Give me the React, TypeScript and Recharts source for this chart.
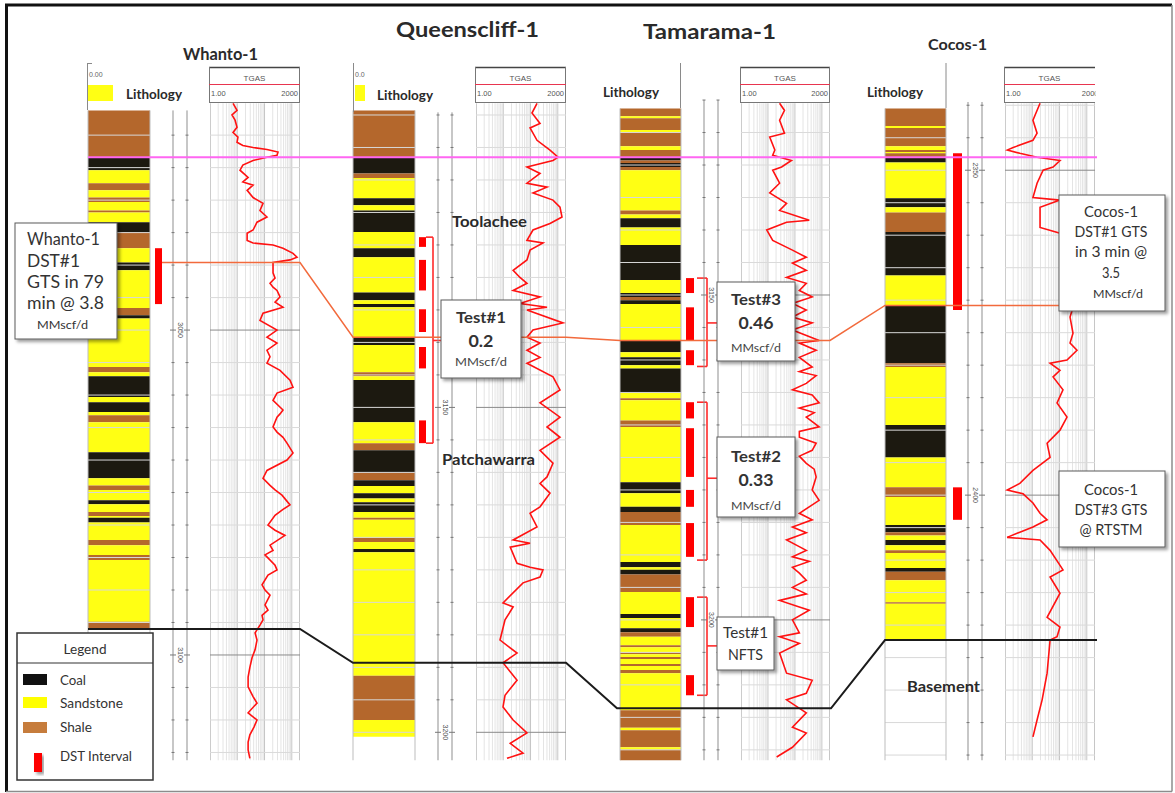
import React from 'react';
import { ComposedChart, XAxis, YAxis, Line, ReferenceArea, ReferenceLine } from 'recharts';

type Interval = [number, number, string];
type Pt = [number, number];

// ---------------- DATA (depths in m below the datum horizon) ----------------
const wellNames = ['Whanto-1', 'Queenscliff-1', 'Tamarama-1', 'Cocos-1'];
// measured depth (m) of the flattening datum horizon in each well
const datumDepths = [3023.4, 3111.5, 3128.8, 2348.0];

// lithology intervals [top, base, code]  C = coal, S = sandstone, H = shale
const whantoLith: Interval[] = [
  [-7.2, 0, 'H'], [0, 2.0, 'C'], [2.0, 4.0, 'S'], [4.0, 5.1, 'H'], [5.1, 6.2, 'S'], [6.2, 6.9, 'H'],
  [6.9, 8.2, 'S'], [8.2, 8.5, 'H'], [8.5, 10.0, 'S'], [10.0, 11.5, 'C'], [11.5, 14.0, 'H'], [14.0, 16.2, 'S'],
  [16.2, 17.4, 'C'], [17.4, 23.2, 'S'], [23.2, 24.3, 'H'], [24.3, 24.8, 'C'], [24.8, 32.3, 'S'], [32.3, 33.1, 'H'],
  [33.1, 33.7, 'S'], [33.7, 36.9, 'C'], [36.9, 37.7, 'S'], [37.7, 39.2, 'C'], [39.2, 39.7, 'S'], [39.7, 40.8, 'H'],
  [40.8, 45.4, 'S'], [45.4, 49.4, 'C'], [49.4, 50.5, 'S'], [50.5, 51.2, 'H'], [51.2, 52.8, 'S'], [52.8, 53.4, 'C'],
  [53.4, 54.6, 'S'], [54.6, 55.2, 'H'], [55.2, 55.5, 'S'], [55.5, 56.2, 'C'], [56.2, 58.9, 'S'], [58.9, 59.7, 'H'],
  [59.7, 61.2, 'S'], [61.2, 62.0, 'H'], [62.0, 71.5, 'S'], [71.5, 72.5, 'H'],
];
const queenscliffLith: Interval[] = [
  [-7.2, 0, 'H'], [0, 2.5, 'C'], [2.5, 3.2, 'H'], [3.2, 6.3, 'S'], [6.3, 7.4, 'C'], [7.4, 8.2, 'S'],
  [8.2, 11.5, 'C'], [11.5, 14.0, 'S'], [14.0, 15.4, 'C'], [15.4, 20.8, 'S'], [20.8, 22.0, 'C'], [22.0, 22.6, 'S'],
  [22.6, 23.1, 'C'], [23.1, 27.7, 'S'], [27.7, 28.9, 'C'], [28.9, 33.1, 'S'], [33.1, 33.7, 'H'], [33.7, 34.3, 'S'],
  [34.3, 40.8, 'C'], [40.8, 44.0, 'S'], [44.0, 45.1, 'H'], [45.1, 48.5, 'C'], [48.5, 49.7, 'H'], [49.7, 50.6, 'C'],
  [50.6, 51.7, 'S'], [51.7, 52.5, 'C'], [52.5, 53.1, 'S'], [53.1, 54.6, 'C'], [54.6, 55.5, 'S'], [55.5, 55.8, 'H'],
  [55.8, 58.6, 'S'], [58.6, 59.2, 'H'], [59.2, 60.3, 'S'], [60.3, 60.8, 'C'], [60.8, 79.8, 'S'], [79.8, 86.6, 'H'],
  [86.6, 89.2, 'S'],
];
const tamaramaLith: Interval[] = [
  [-7.5, -6.3, 'H'], [-6.3, -6.0, 'S'], [-6.0, -4.2, 'H'], [-4.2, -3.9, 'S'], [-3.9, -1.7, 'H'], [-1.7, -1.1, 'S'],
  [-1.1, 0, 'H'], [0, 0.5, 'C'], [0.5, 0.9, 'H'], [0.9, 1.5, 'C'], [1.5, 2.0, 'H'], [2.0, 8.2, 'S'],
  [8.2, 8.8, 'H'], [8.8, 9.4, 'S'], [9.4, 10.8, 'C'], [10.8, 13.5, 'S'], [13.5, 18.9, 'C'], [18.9, 20.9, 'S'],
  [20.9, 21.5, 'C'], [21.5, 22.0, 'H'], [22.0, 22.6, 'C'], [22.6, 28.2, 'S'], [28.2, 30.0, 'C'], [30.0, 30.8, 'S'],
  [30.8, 32.0, 'C'], [32.0, 32.5, 'S'], [32.5, 36.3, 'C'], [36.3, 37.1, 'S'], [37.1, 37.4, 'H'], [37.4, 40.5, 'S'],
  [40.5, 41.5, 'H'], [41.5, 50.0, 'S'], [50.0, 51.7, 'C'], [51.7, 53.8, 'S'], [53.8, 54.6, 'C'], [54.6, 56.6, 'H'],
  [56.6, 62.3, 'S'], [62.3, 63.1, 'C'], [63.1, 63.5, 'S'], [63.5, 64.2, 'C'], [64.2, 66.9, 'H'], [66.9, 70.3, 'S'],
  [70.3, 70.9, 'C'], [70.9, 72.5, 'S'], [72.5, 73.1, 'C'], [73.1, 73.8, 'H'], [73.8, 75.1, 'S'], [75.1, 75.4, 'H'],
  [75.4, 76.2, 'S'], [76.2, 76.5, 'H'], [76.5, 76.9, 'S'], [76.9, 77.2, 'H'], [77.2, 78.0, 'S'], [78.0, 78.3, 'H'],
  [78.3, 78.9, 'S'], [78.9, 79.4, 'H'], [79.4, 85.1, 'S'], [85.1, 87.8, 'H'], [87.8, 88.2, 'S'], [88.2, 90.8, 'H'],
  [90.8, 91.2, 'S'], [91.2, 92.8, 'H'],
];
const cocosLith: Interval[] = [
  [-7.5, -4.8, 'H'], [-4.8, -4.5, 'S'], [-4.5, -1.7, 'H'], [-1.7, -1.1, 'S'], [-1.1, -0.8, 'H'], [-0.8, -0.6, 'S'],
  [-0.6, 0, 'H'], [0, 0.8, 'C'], [0.8, 6.3, 'S'], [6.3, 7.7, 'C'], [7.7, 8.5, 'S'], [8.5, 11.5, 'H'],
  [11.5, 18.2, 'C'], [18.2, 22.8, 'S'], [22.8, 31.7, 'C'], [31.7, 32.3, 'H'], [32.3, 41.2, 'S'], [41.2, 46.2, 'C'],
  [46.2, 50.8, 'S'], [50.8, 52.3, 'H'], [52.3, 56.6, 'S'], [56.6, 57.7, 'C'], [57.7, 58.2, 'H'], [58.2, 58.9, 'S'],
  [58.9, 59.7, 'C'], [59.7, 60.5, 'S'], [60.5, 60.9, 'H'], [60.9, 63.2, 'S'], [63.2, 63.8, 'C'], [63.8, 65.1, 'H'],
  [65.1, 68.5, 'S'], [68.5, 68.7, 'H'], [68.7, 74.3, 'S'],
];

// total gas logs [m below datum, TGAS units]
const whantoGas: Pt[] = [
  [-8.3, 7.0], [-7.2, 9.8], [-6.5, 6.4], [-5.7, 8.3], [-4.6, 9.8], [-3.8, 7.0], [-3.1, 10.6], [-2.3, 9.8],
  [-1.8, 16], [-1.5, 38], [-1.2, 123], [-0.8, 312], [-0.3, 287], [0, 123], [0.5, 38], [1.2, 16], [2.0, 12.6],
  [3.1, 25], [3.8, 16], [4.3, 38], [5.1, 23], [6.2, 38], [7.1, 88], [8.2, 68], [9.2, 123], [10.0, 53],
  [11.2, 38], [11.7, 23], [12.8, 23], [13.2, 38], [13.5, 205], [14.0, 476], [14.8, 1108], [15.4, 1553],
  [15.8, 860], [16.2, 205], [17.8, 205], [18.6, 243], [19.4, 159], [20.0, 205], [20.5, 287], [21.5, 370],
  [22.3, 243], [23.1, 476], [24.0, 88], [25.1, 68], [26.6, 287], [27.7, 123], [28.6, 287], [29.7, 123],
  [30.7, 159], [31.7, 123], [32.8, 370], [34.3, 860], [35.4, 1108], [36.3, 287], [37.4, 205], [38.9, 476],
  [39.5, 370], [40.0, 287], [41.5, 205], [42.3, 287], [43.1, 476], [44.0, 667], [45.5, 1108], [46.6, 667],
  [48.2, 123], [49.4, 88], [50.5, 159], [51.2, 243], [52.0, 437], [53.5, 860], [54.2, 476], [55.1, 243],
  [56.6, 134], [57.4, 243], [58.2, 563], [59.7, 159], [60.5, 205], [61.2, 104], [62.8, 243], [63.5, 287],
  [64.3, 134], [65.8, 81], [66.6, 104], [67.4, 159], [68.9, 104], [69.7, 134], [70.5, 81], [71.2, 88],
  [72.0, 68], [73.2, 45], [74.3, 53], [75.8, 45], [77.0, 35], [78.5, 29], [80.0, 25], [81.5, 25], [83.0, 38],
  [84.0, 53], [85.5, 25], [86.6, 53], [87.7, 41], [88.9, 29], [90.0, 25], [91.2, 25], [92.5, 29],
];
const queenscliffGas: Pt[] = [
  [-8.3, 173], [-6.8, 113], [-5.2, 223], [-4.5, 96], [-2.6, 173], [-1.1, 518], [0, 1018], [0.5, 667],
  [1.5, 74], [2.5, 223], [4.0, 74], [4.6, 402], [5.5, 123], [6.6, 667], [7.7, 1205], [9.2, 1427], [10.2, 518],
  [11.2, 123], [12.8, 74], [13.2, 287], [14.3, 96], [15.8, 74], [17.4, 23], [18.5, 41], [19.4, 74], [20.5, 23],
  [21.5, 223], [22.5, 41], [23.1, 402], [23.5, 74], [25.5, 1553], [26.6, 123], [27.7, 74], [28.6, 223],
  [29.7, 74], [30.8, 223], [31.7, 74], [33.8, 667], [35.8, 1205], [37.8, 223], [40.0, 1205], [41.5, 402],
  [43.1, 1205], [45.1, 223], [47.1, 667], [49.2, 402], [50.2, 223], [51.7, 518], [53.8, 223], [54.8, 96],
  [56.9, 173], [58.9, 23], [59.4, 96], [60.0, 18], [62.5, 32], [63.1, 96], [63.5, 287], [64.6, 223],
  [65.5, 53], [68.6, 9.8], [69.2, 23], [71.2, 11.6], [74.3, 7.6], [76.3, 32], [77.8, 9.8], [80.5, 32],
  [82.8, 11.6], [84.6, 9.8], [86.6, 23], [88.6, 74], [90.2, 18], [91.7, 53], [92.5, 13.7],
];
const tamaramaGas: Pt[] = [
  [-8.3, 27], [-7.2, 41], [-5.7, 27], [-3.7, 41], [-3.1, 11.6], [-1.1, 18], [-0.3, 15], [0.5, 74], [1.5, 32],
  [2.0, 15], [4.0, 27], [5.5, 11.6], [7.1, 49], [8.2, 27], [9.7, 340], [10.0, 49], [11.2, 9], [12.8, 15],
  [14.3, 81], [15.4, 264], [16.3, 81], [17.4, 264], [18.5, 49], [19.4, 264], [20.5, 146], [21.5, 437],
  [22.5, 81], [23.5, 264], [24.6, 81], [25.5, 437], [26.6, 81], [28.2, 790], [28.6, 146], [29.7, 613],
  [30.8, 146], [32.3, 437], [33.0, 146], [33.6, 613], [34.8, 264], [35.8, 81], [36.6, 437], [37.8, 790],
  [38.6, 146], [39.3, 518], [40.0, 264], [41.5, 790], [42.2, 146], [43.1, 146], [44.0, 613], [45.1, 437],
  [46.0, 146], [47.1, 264], [48.0, 518], [49.2, 613], [51.2, 437], [52.8, 790], [54.8, 146], [55.8, 437],
  [56.9, 81], [57.8, 264], [58.9, 49], [60.5, 264], [61.5, 81], [62.2, 340], [63.1, 81], [64.0, 146],
  [65.1, 264], [66.2, 81], [67.2, 264], [68.2, 27], [69.2, 146], [69.7, 340], [71.2, 81], [73.2, 146],
  [73.8, 27], [74.8, 146], [76.3, 27], [79.4, 49], [80.5, 437], [82.5, 264], [83.5, 49], [85.5, 264],
  [87.7, 81], [88.6, 264], [90.8, 81], [92.3, 21],
];
const cocosGas: Pt[] = [
  [-8.3, 19.3], [-5.7, 10.6], [-3.7, 15], [-2.6, 10.6], [-1.5, 2.0], [-1.1, 1.2], [-0.6, 3.5], [0, 15],
  [0.5, 104], [1.5, 58], [2.0, 25], [4.0, 15], [6.2, 10.6], [6.6, 104], [7.7, 19.3], [10.8, 19.3], [11.7, 104],
  [14.3, 312], [16.9, 437], [19.4, 312], [23.1, 312], [24.6, 243], [27.1, 312], [28.6, 243], [29.7, 437],
  [31.2, 188], [31.7, 45], [32.8, 104], [33.8, 58], [35.8, 134], [37.8, 81], [40.0, 188], [42.0, 104],
  [44.0, 35], [46.2, 45], [48.2, 10.6], [50.2, 3.5], [51.2, 1.2], [51.8, 4.6], [53.2, 10.6], [54.8, 19.3],
  [55.8, 35], [56.9, 10.6], [57.7, 3.5], [58.5, 1.2], [58.9, 19.3], [60.5, 45], [63.5, 134], [64.6, 45],
  [67.1, 104], [70.8, 35], [72.3, 104], [73.8, 81], [74.3, 45], [79.4, 35], [83.5, 23], [86.6, 15], [89.2, 10.6],
];

// DST intervals [top, base]
const whantoDst: Pt[] = [[14.0, 22.6]];
const queenscliffDst: Pt[] = [[12.3, 13.8], [15.8, 20.5], [23.4, 26.9], [29.2, 32.5], [40.5, 44.0]];
const tamaramaDst: Pt[] = [
  [18.6, 20.9], [23.1, 28.2], [29.7, 32.0], [37.7, 40.2], [41.7, 49.2], [51.2, 53.8], [56.3, 61.5],
  [67.7, 72.3], [79.7, 82.8],
];
const cocosDst: Pt[] = [[-0.6, 23.5], [50.8, 55.8]];

// grouped tests [top, base, annotation depth]
const queenscliffTests: [number, number, number][] = [[12.3, 44.0, 28.2]];
const tamaramaTests: [number, number, number][] = [[18.6, 32.2, 25.5], [37.7, 62.0, 49.4], [67.7, 82.8, 75.2]];

// correlation horizon picks per well (m below datum)
const datumPicks = [0, 0, 0, 0];
const gasZonePicks = [16.2, 27.7, 28.2, 22.8];
const basementPicks = [72.6, 77.8, 84.8, 74.3];

const WELLS = [
  { lith: whantoLith, gas: whantoGas, dst: whantoDst, tests: [] as [number, number, number][] },
  { lith: queenscliffLith, gas: queenscliffGas, dst: queenscliffDst, tests: queenscliffTests },
  { lith: tamaramaLith, gas: tamaramaGas, dst: tamaramaDst, tests: tamaramaTests },
  { lith: cocosLith, gas: cocosGas, dst: cocosDst, tests: [] as [number, number, number][] },
];

// ---------------- LAYOUT ----------------
const W = 1175;
const H = 793;
const PLOT_TOP = 63;
const PLOT_BOTTOM = 23;
const DEPTH_DOMAIN: [number, number] = [-14.5, 94.3];
const TRACK_TOP = -8.3;
const TRACK_BASE = 92.8;

const LAYOUT = [
  { lithL: 88, lithR: 150, dstL: 155, dstR: 162, depthA: 173, depthB: 187, depthTop: -7.2, gasL: 210, gasR: 300, brL: 0, brX: 0, brTick: 0 },
  { lithL: 353, lithR: 415, dstL: 419, dstR: 426, depthA: 438, depthB: 452, depthTop: -6.9, gasL: 476, gasR: 566, brL: 426, brX: 433, brTick: 441 },
  { lithL: 620, lithR: 681, dstL: 686, dstR: 694, depthA: 704, depthB: 718, depthTop: -8.8, gasL: 741, gasR: 830, brL: 697, brX: 707, brTick: 717 },
  { lithL: 885, lithR: 946, dstL: 953, dstR: 962, depthA: 968, depthB: 982, depthTop: -8.5, gasL: 1005, gasR: 1095, brL: 0, brX: 0, brTick: 0 },
];

const PINK_SPANS: Pt[] = [[88, 300], [353, 566], [620, 830], [885, 1097]];
const ORANGE_SPANS: Pt[] = [[162, 300], [353, 566], [620, 830], [885, 1059]];
const BASE_SPANS: Pt[] = [[88, 300], [353, 566], [617, 831], [885, 1097]];

const LITH_FILL: Record<string, string> = { C: '#1c1910', S: '#ffff14', H: '#b4672c' };
const FONT = 'Lato, "Open Sans", "Noto Sans", sans-serif';
const SMALL_FONT = '"Liberation Sans", Arial, sans-serif';

const LOG_GRID: number[] = [];
[1, 10, 100, 1000].forEach((dec) => {
  for (let k = 1; k <= 9; k++) {
    const v = k * dec;
    if (v <= 2000) LOG_GRID.push(v);
  }
});

function fiveMetreLines(datum: number, top: number, base: number): number[] {
  const out: number[] = [];
  for (let z = Math.ceil((datum + top) / 5) * 5; z <= datum + base; z += 5) out.push(z);
  return out;
}

const DepthLabel = (props: any) => {
  const vb = props.viewBox || { x: 0, y: 0, width: 0, height: 0 };
  const cx = vb.x + (vb.width || 0) / 2;
  const cy = vb.y + (vb.height || 0) / 2;
  return (
    <text
      transform={`translate(${cx},${cy}) rotate(90)`}
      textAnchor="middle"
      dominantBaseline="central"
      fontSize={7}
      fill="#555"
      fontFamily={SMALL_FONT}
    >
      {props.depthText}
    </text>
  );
};

// ---------------- GAS TRACK ----------------
function GasTrack({ i }: { i: number }) {
  const L = LAYOUT[i];
  const D = datumDepths[i];
  const w = L.gasR - L.gasL;
  const data = WELLS[i].gas.map(([d, g]) => ({ d, g }));
  const hLines = fiveMetreLines(D, TRACK_TOP, TRACK_BASE);
  return (
    <div style={{ position: 'absolute', left: L.gasL, top: 0 }}>
      <ComposedChart width={w} height={H} margin={{ top: PLOT_TOP, bottom: PLOT_BOTTOM, left: 0, right: 0 }}>
        <XAxis type="number" dataKey="g" scale="log" domain={[1, 2000]} hide allowDataOverflow />
        <YAxis type="number" domain={DEPTH_DOMAIN} reversed hide allowDataOverflow />
        {LOG_GRID.map((v) => {
          const dec = [1, 10, 100, 1000].includes(v);
          return (
            <ReferenceLine
              key={'v' + v}
              segment={[{ x: v, y: TRACK_TOP }, { x: v, y: TRACK_BASE }]}
              stroke={v === 1 ? '#9a9a9a' : dec ? '#c6c6c6' : '#e4e4e4'}
              strokeWidth={1}
              ifOverflow="visible"
            />
          );
        })}
        <ReferenceLine
          segment={[{ x: 2000, y: TRACK_TOP }, { x: 2000, y: TRACK_BASE }]}
          stroke="#9a9a9a"
          ifOverflow="visible"
        />
        {hLines.map((z) => (
          <ReferenceLine
            key={'h' + z}
            y={z - D}
            stroke={z % 50 === 0 ? '#8a8a8a' : '#dadada'}
            strokeWidth={1}
            ifOverflow="visible"
          />
        ))}
        <Line
          data={data}
          dataKey="d"
          type="linear"
          stroke="#ff1212"
          strokeWidth={1.6}
          dot={false}
          activeDot={false}
          isAnimationActive={false}
        />
      </ComposedChart>
    </div>
  );
}

// ---------------- COLUMNS (lithology, DST, depth tracks) ----------------
function ColumnChart() {
  const els: React.ReactNode[] = [];
  WELLS.forEach((wl, i) => {
    const L = LAYOUT[i];
    const D = datumDepths[i];
    const colTop = wl.lith[0][0];
    // background grid of the lithology track
    fiveMetreLines(D, colTop, TRACK_BASE).forEach((z) => {
      els.push(
        <ReferenceLine key={`cg${i}-${z}`} segment={[{ x: L.lithL, y: z - D }, { x: L.lithR, y: z - D }]} stroke="#d8d8d8" ifOverflow="visible" />
      );
    });
    els.push(
      <ReferenceLine key={`ce${i}a`} segment={[{ x: L.lithL, y: colTop }, { x: L.lithL, y: TRACK_BASE }]} stroke="#bdbdbd" ifOverflow="visible" />,
      <ReferenceLine key={`ce${i}b`} segment={[{ x: L.lithR, y: colTop }, { x: L.lithR, y: TRACK_BASE }]} stroke="#bdbdbd" ifOverflow="visible" />
    );
    // lithology bands
    wl.lith.forEach(([t, b, c], k) => {
      els.push(
        <ReferenceArea
          key={`l${i}-${k}`}
          x1={L.lithL}
          x2={L.lithR}
          y1={t}
          y2={b}
          fill={LITH_FILL[c]}
          fillOpacity={1}
          stroke="none"
          ifOverflow="visible"
        />
      );
    });
    // DST bars
    wl.dst.forEach(([t, b], k) => {
      els.push(
        <ReferenceArea key={`d${i}-${k}`} x1={L.dstL} x2={L.dstR} y1={t} y2={b} fill="#ff0000" fillOpacity={1} stroke="none" ifOverflow="visible" />
      );
    });
    // test brackets
    wl.tests.forEach(([t, b, m], k) => {
      const st = { stroke: '#ff2a2a', strokeWidth: 1.6, ifOverflow: 'visible' as const };
      els.push(
        <ReferenceLine key={`bt${i}-${k}`} segment={[{ x: L.brL, y: t }, { x: L.brX, y: t }]} {...st} />,
        <ReferenceLine key={`bb${i}-${k}`} segment={[{ x: L.brL, y: b }, { x: L.brX, y: b }]} {...st} />,
        <ReferenceLine key={`bv${i}-${k}`} segment={[{ x: L.brX, y: t }, { x: L.brX, y: b }]} {...st} />,
        <ReferenceLine key={`bm${i}-${k}`} segment={[{ x: L.brX, y: m }, { x: L.brTick, y: m }]} {...st} />
      );
    });
    // depth track
    els.push(
      <ReferenceLine key={`da${i}`} segment={[{ x: L.depthA, y: L.depthTop }, { x: L.depthA, y: TRACK_BASE }]} stroke="#8f8f8f" ifOverflow="visible" />,
      <ReferenceLine key={`db${i}`} segment={[{ x: L.depthB, y: L.depthTop }, { x: L.depthB, y: TRACK_BASE }]} stroke="#8f8f8f" ifOverflow="visible" />
    );
    fiveMetreLines(D, L.depthTop, TRACK_BASE).forEach((z) => {
      const rel = z - D;
      const major = z % 50 === 0;
      const half = major ? 3 : 1.5;
      els.push(
        <ReferenceLine key={`ta${i}-${z}`} segment={[{ x: L.depthA - half, y: rel }, { x: L.depthA + half, y: rel }]} stroke="#777" ifOverflow="visible" />,
        <ReferenceLine key={`tb${i}-${z}`} segment={[{ x: L.depthB - half, y: rel }, { x: L.depthB + half, y: rel }]} stroke="#777" ifOverflow="visible" />
      );
      if (major) {
        els.push(
          <ReferenceLine
            key={`tl${i}-${z}`}
            segment={[{ x: L.depthA, y: rel }, { x: L.depthB, y: rel }]}
            stroke="none"
            ifOverflow="visible"
            label={<DepthLabel depthText={String(z)} />}
          />
        );
      }
    });
  });
  return (
    <div style={{ position: 'absolute', left: 0, top: 0 }}>
      <ComposedChart width={W} height={H} margin={{ top: PLOT_TOP, bottom: PLOT_BOTTOM, left: 0, right: 0 }}>
        <XAxis type="number" dataKey="x" domain={[0, W]} hide allowDataOverflow />
        <YAxis type="number" domain={DEPTH_DOMAIN} reversed hide allowDataOverflow />
        {els}
      </ComposedChart>
    </div>
  );
}

// ---------------- CORRELATION LINES ----------------
function horizon(picks: number[], spans: Pt[]) {
  const out: { x: number; d: number }[] = [];
  spans.forEach(([a, b], i) => {
    out.push({ x: a, d: picks[i] }, { x: b, d: picks[i] });
  });
  return out;
}

function CorrelationChart() {
  return (
    <div style={{ position: 'absolute', left: 0, top: 0 }}>
      <ComposedChart width={W} height={H} margin={{ top: PLOT_TOP, bottom: PLOT_BOTTOM, left: 0, right: 0 }}>
        <XAxis type="number" dataKey="x" domain={[0, W]} hide allowDataOverflow />
        <YAxis type="number" domain={DEPTH_DOMAIN} reversed hide allowDataOverflow />
        <Line data={horizon(basementPicks, BASE_SPANS)} dataKey="d" stroke="#1b1b1b" strokeWidth={2} dot={false} activeDot={false} isAnimationActive={false} />
        <Line data={horizon(gasZonePicks, ORANGE_SPANS)} dataKey="d" stroke="#f26a3c" strokeWidth={1.5} dot={false} activeDot={false} isAnimationActive={false} />
        <Line data={horizon(datumPicks, PINK_SPANS)} dataKey="d" stroke="#ff66f2" strokeWidth={2} dot={false} activeDot={false} isAnimationActive={false} />
      </ComposedChart>
    </div>
  );
}

// ---------------- ANNOTATIONS ----------------
type TL = { t: string; x: number; y: number; size: number; bold?: boolean; w?: number; anchor?: 'start' | 'middle' | 'end'; color?: string };

const TITLES: TL[] = [
  { t: wellNames[0], x: 183, y: 60, size: 17, bold: true, w: 75 },
  { t: wellNames[1], x: 396, y: 37, size: 21, bold: true, w: 143 },
  { t: wellNames[2], x: 643, y: 39, size: 21, bold: true, w: 133 },
  { t: wellNames[3], x: 928, y: 50, size: 16, bold: true, w: 59 },
  { t: 'Lithology', x: 126, y: 99, size: 13, bold: true, w: 56 },
  { t: 'Lithology', x: 377, y: 100, size: 13, bold: true, w: 56 },
  { t: 'Lithology', x: 603, y: 97, size: 13, bold: true, w: 56 },
  { t: 'Lithology', x: 867, y: 97, size: 13, bold: true, w: 56 },
  { t: 'Toolachee', x: 452, y: 227, size: 15, bold: true, w: 75 },
  { t: 'Patchawarra', x: 442, y: 465, size: 15, bold: true, w: 93 },
  { t: 'Basement', x: 907, y: 692, size: 15, bold: true, w: 73 },
];

const NOTE_BOXES: { x: number; y: number; w: number; h: number; lines: TL[] }[] = [
  {
    x: 15, y: 223, w: 102, h: 116,
    lines: [
      { t: 'Whanto-1', x: 27, y: 245, size: 18, w: 73 },
      { t: 'DST#1', x: 27, y: 267, size: 18, w: 53 },
      { t: 'GTS in 79', x: 27, y: 288, size: 18, w: 77 },
      { t: 'min @ 3.8', x: 27, y: 309, size: 18, w: 77 },
      { t: 'MMscf/d', x: 37, y: 329, size: 12, w: 51 },
    ],
  },
  {
    x: 441, y: 300, w: 80, h: 78,
    lines: [
      { t: 'Test#1', x: 481, y: 323, size: 16, bold: true, w: 50, anchor: 'middle' },
      { t: '0.2', x: 481, y: 347, size: 17, bold: true, w: 25, anchor: 'middle' },
      { t: 'MMscf/d', x: 481, y: 366, size: 12, w: 52, anchor: 'middle', color: '#444' },
    ],
  },
  {
    x: 717, y: 282, w: 78, h: 79,
    lines: [
      { t: 'Test#3', x: 756, y: 305, size: 16, bold: true, w: 50, anchor: 'middle' },
      { t: '0.46', x: 756, y: 329, size: 17, bold: true, w: 35, anchor: 'middle' },
      { t: 'MMscf/d', x: 756, y: 352, size: 12, w: 50, anchor: 'middle', color: '#444' },
    ],
  },
  {
    x: 717, y: 437, w: 78, h: 80,
    lines: [
      { t: 'Test#2', x: 756, y: 462, size: 16, bold: true, w: 50, anchor: 'middle' },
      { t: '0.33', x: 756, y: 486, size: 17, bold: true, w: 35, anchor: 'middle' },
      { t: 'MMscf/d', x: 756, y: 510, size: 12, w: 50, anchor: 'middle', color: '#444' },
    ],
  },
  {
    x: 717, y: 617, w: 57, h: 53,
    lines: [
      { t: 'Test#1', x: 745.5, y: 638, size: 15, w: 45, anchor: 'middle' },
      { t: 'NFTS', x: 745.5, y: 660, size: 15, w: 35, anchor: 'middle' },
    ],
  },
  {
    x: 1059, y: 195, w: 106, h: 116,
    lines: [
      { t: 'Cocos-1', x: 1111, y: 217, size: 16, w: 54, anchor: 'middle' },
      { t: 'DST#1 GTS', x: 1111, y: 237, size: 16, w: 73, anchor: 'middle' },
      { t: 'in 3 min @', x: 1111, y: 257, size: 16, w: 72, anchor: 'middle' },
      { t: '3.5', x: 1111, y: 278, size: 16, w: 18, anchor: 'middle' },
      { t: 'MMscf/d', x: 1118, y: 298, size: 12, w: 50, anchor: 'middle' },
    ],
  },
  {
    x: 1059, y: 471, w: 106, h: 76,
    lines: [
      { t: 'Cocos-1', x: 1111, y: 495, size: 16, w: 54, anchor: 'middle' },
      { t: 'DST#3 GTS', x: 1111, y: 515, size: 16, w: 73, anchor: 'middle' },
      { t: '@ RTSTM', x: 1111, y: 535, size: 16, w: 63, anchor: 'middle' },
    ],
  },
];

const LEGEND_ITEMS = [
  { label: 'Coal', fill: '#111111', y: 674, ty: 685, w: 26 },
  { label: 'Sandstone', fill: '#ffff00', y: 697, ty: 708, w: 63 },
  { label: 'Shale', fill: '#c67c3c', y: 722, ty: 732, w: 32 },
];

function Txt({ l }: { l: TL }) {
  return (
    <text
      x={l.x}
      y={l.y}
      fontSize={l.size}
      fontWeight={l.bold ? 700 : 400}
      fontFamily={FONT}
      fill={l.color || '#2a2a2a'}
      textAnchor={l.anchor || 'start'}
      textLength={l.w}
      lengthAdjust="spacingAndGlyphs"
    >
      {l.t}
    </text>
  );
}

function Overlay() {
  return (
    <svg width={W} height={H} style={{ position: 'absolute', left: 0, top: 0, pointerEvents: 'none' }}>
      <defs>
        <filter id="shadow" x="-10%" y="-10%" width="130%" height="130%">
          <feDropShadow dx="2.5" dy="2.5" stdDeviation="1.5" floodColor="#000" floodOpacity="0.38" />
        </filter>
      </defs>
      {/* frame */}
      <line x1={5} y1={5} x2={1172} y2={5} stroke="#111" strokeWidth={3} />
      <line x1={6.5} y1={5} x2={6.5} y2={792} stroke="#111" strokeWidth={3} />
      <line x1={1172} y1={5} x2={1172} y2={791.5} stroke="#8c8c8c" strokeWidth={1.5} />
      <line x1={6} y1={791.5} x2={1172} y2={791.5} stroke="#8c8c8c" strokeWidth={1.5} />

      {/* lithology track headers */}
      <line x1={87.5} y1={63} x2={87.5} y2={110} stroke="#8a8a8a" />
      <line x1={87.5} y1={63.5} x2={92} y2={63.5} stroke="#8a8a8a" />
      <text x={89} y={77} fontSize={7} fill="#666" fontFamily={SMALL_FONT}>0.00</text>
      <rect x={88} y={85} width={25} height={16} fill="#ffff14" />
      <line x1={353.5} y1={63} x2={353.5} y2={112} stroke="#8a8a8a" />
      <text x={355} y={77} fontSize={7} fill="#666" fontFamily={SMALL_FONT}>0.0</text>
      <rect x={355} y={85} width={10} height={16} fill="#ffff14" />
      <line x1={680.5} y1={63} x2={680.5} y2={108} stroke="#8a8a8a" />
      <line x1={946} y1={63} x2={946} y2={108} stroke="#8a8a8a" />

      {/* gas track headers */}
      {LAYOUT.map((L, i) => {
        const x0 = L.gasL - 1;
        const x1 = L.gasR;
        const open = i === 3;
        return (
          <g key={'gh' + i}>
            <rect x={x0} y={67} width={x1 - x0} height={35} fill="#fff" stroke="none" />
            <line x1={x0} y1={67.5} x2={x1} y2={67.5} stroke="#444" strokeWidth={1.5} />
            <line x1={x0 + 0.5} y1={67} x2={x0 + 0.5} y2={103} stroke="#777" />
            {!open && <line x1={x1 - 0.5} y1={67} x2={x1 - 0.5} y2={103} stroke="#777" />}
            <line x1={x0} y1={102.5} x2={x1} y2={102.5} stroke="#777" />
            <text x={(x0 + x1) / 2} y={81} fontSize={8} fill="#555" textAnchor="middle" fontFamily={SMALL_FONT}>TGAS</text>
            <line x1={x0} y1={84.5} x2={x1} y2={84.5} stroke="#e8354f" strokeWidth={1.2} />
            <text x={x0 + 2} y={96} fontSize={7.5} fill="#555" fontFamily={SMALL_FONT}>1.00</text>
            <text x={open ? x1 + 3.5 : x1 - 2} y={96} fontSize={7.5} fill="#555" textAnchor="end" fontFamily={SMALL_FONT}>2000</text>
            {open && <rect x={x1 + 0.5} y={86} width={10} height={14} fill="#fff" />}
          </g>
        );
      })}

      {/* titles and labels */}
      {TITLES.map((l, k) => <Txt key={'t' + k} l={l} />)}

      {/* note boxes */}
      {NOTE_BOXES.map((b, k) => (
        <g key={'nb' + k}>
          <rect x={b.x} y={b.y} width={b.w} height={b.h} fill="#fff" stroke="#5a5a5a" strokeWidth={1} filter="url(#shadow)" />
          {b.lines.map((l, j) => <Txt key={j} l={{ ...l, color: l.color || '#333' }} />)}
        </g>
      ))}

      {/* legend */}
      <rect x={17} y={633} width={136} height={147} fill="#fff" stroke="#333" strokeWidth={1.5} />
      <line x1={17} y1={663} x2={153} y2={663} stroke="#333" strokeWidth={1.2} />
      <Txt l={{ t: 'Legend', x: 85, y: 654, size: 13, w: 43, anchor: 'middle', color: '#333' }} />
      {LEGEND_ITEMS.map((it) => (
        <g key={it.label}>
          <rect x={23} y={it.y} width={24} height={11} fill={it.fill} />
          <Txt l={{ t: it.label, x: 60, y: it.ty, size: 13, w: it.w, color: '#333' }} />
        </g>
      ))}
      <rect x={34} y={753} width={8} height={19} fill="#ff0000" filter="url(#shadow)" />
      <Txt l={{ t: 'DST Interval', x: 60, y: 761, size: 13, w: 72, color: '#333' }} />
    </svg>
  );
}

export default function App() {
  return (
    <div style={{ position: 'absolute', left: 0, top: 0, width: W, height: H, background: '#fff', overflow: 'hidden' }}>
      {[0, 1, 2, 3].map((i) => <GasTrack key={i} i={i} />)}
      <ColumnChart />
      <CorrelationChart />
      <Overlay />
    </div>
  );
}
